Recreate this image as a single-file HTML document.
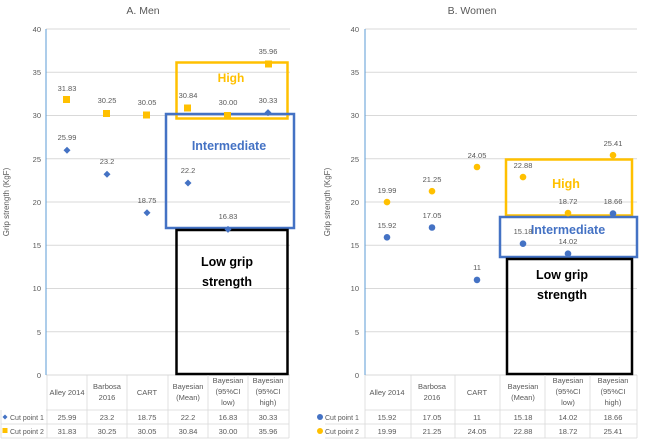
<!DOCTYPE html>
<html><head><meta charset="utf-8"><style>
html,body{margin:0;padding:0;background:#fff;}
svg{display:block;font-family:"Liberation Sans",sans-serif;}
.t{font-size:7.5px;fill:#595959;text-anchor:middle}
.ax{font-size:7.5px;fill:#595959;text-anchor:end}
.g{stroke:#d9d9d9;stroke-width:1}
.tb{stroke:#d9d9d9;stroke-width:0.8;fill:none}
</style></head><body>
<svg width="645" height="439" viewBox="0 0 645 439">
<!-- ===== LEFT ===== -->
<text x="143" y="14" font-size="10.5" fill="#595959" text-anchor="middle">A. Men</text>
<g class="g">
<line x1="46" x2="290" y1="29" y2="29"/><line x1="46" x2="290" y1="72.25" y2="72.25"/><line x1="46" x2="290" y1="115.5" y2="115.5"/><line x1="46" x2="290" y1="158.75" y2="158.75"/><line x1="46" x2="290" y1="202" y2="202"/><line x1="46" x2="290" y1="245.25" y2="245.25"/><line x1="46" x2="290" y1="288.5" y2="288.5"/><line x1="46" x2="290" y1="331.75" y2="331.75"/><line x1="46" x2="290" y1="375" y2="375"/>
</g>
<line x1="46" x2="46" y1="29" y2="375" stroke="#5b9bd5" stroke-width="1"/>
<text class="ax" x="41" y="32">40</text><text class="ax" x="41" y="75">35</text><text class="ax" x="41" y="118">30</text><text class="ax" x="41" y="162">25</text><text class="ax" x="41" y="205">20</text><text class="ax" x="41" y="248">15</text><text class="ax" x="41" y="291">10</text><text class="ax" x="41" y="335">5</text><text class="ax" x="41" y="378">0</text>
<text transform="translate(9,202) rotate(-90)" font-size="8" fill="#595959" text-anchor="middle">Grip strength (KgF)</text>
<!-- boxes -->
<rect x="176.5" y="62.5" width="111" height="56" fill="none" stroke="#ffc000" stroke-width="2.5"/>
<text x="231" y="82" font-size="12" font-weight="bold" fill="#ffc000" text-anchor="middle">High</text>
<rect x="166" y="114" width="128" height="114" fill="none" stroke="#4472c4" stroke-width="2.5"/>
<text x="229" y="150" font-size="12.5" font-weight="bold" fill="#4472c4" text-anchor="middle">Intermediate</text>
<rect x="176.5" y="230" width="111" height="144" fill="none" stroke="#000" stroke-width="2.5"/>
<text x="227" y="266" font-size="12.5" font-weight="bold" fill="#000" text-anchor="middle">Low grip</text>
<text x="227" y="286" font-size="12.5" font-weight="bold" fill="#000" text-anchor="middle">strength</text>
<!-- cp2 squares -->
<g fill="#ffc000">
<rect x="63" y="96" width="7" height="7"/><rect x="103" y="110" width="7" height="7"/><rect x="143" y="111.5" width="7" height="7"/><rect x="184" y="104.5" width="7" height="7"/><rect x="224" y="112" width="7" height="7"/><rect x="265" y="60.5" width="7" height="7"/>
</g>
<g class="t">
<text x="67" y="91">31.83</text><text x="107" y="103">30.25</text><text x="147" y="105">30.05</text><text x="188" y="98">30.84</text><text x="228" y="105">30.00</text><text x="268" y="54">35.96</text>
</g>
<!-- cp1 diamonds -->
<g fill="#4472c4">
<path d="M67 146.7l3.5 3.5-3.5 3.5-3.5-3.5z"/><path d="M107 170.8l3.5 3.5-3.5 3.5-3.5-3.5z"/><path d="M147 209.3l3.5 3.5-3.5 3.5-3.5-3.5z"/><path d="M188 179.5l3.5 3.5-3.5 3.5-3.5-3.5z"/><path d="M228 225.9l3.5 3.5-3.5 3.5-3.5-3.5z"/><path d="M268 109.1l3.5 3.5-3.5 3.5-3.5-3.5z"/>
</g>
<g class="t">
<text x="67" y="140">25.99</text><text x="107" y="164">23.2</text><text x="147" y="203">18.75</text><text x="188" y="173">22.2</text><text x="228" y="219">16.83</text><text x="268" y="103">30.33</text>
</g>
<!-- table -->
<g class="tb">
<line x1="46" x2="289" y1="410" y2="410"/><line x1="1" x2="289" y1="424" y2="424"/><line x1="1" x2="289" y1="438" y2="438"/><line x1="1" x2="1" y1="410" y2="438"/>
<line x1="47" x2="47" y1="375" y2="438"/><line x1="87" x2="87" y1="375" y2="438"/><line x1="127" x2="127" y1="375" y2="438"/><line x1="168" x2="168" y1="375" y2="438"/><line x1="208" x2="208" y1="375" y2="438"/><line x1="248" x2="248" y1="375" y2="438"/><line x1="289" x2="289" y1="375" y2="438"/>
</g>
<g class="t" font-size="7">
<text x="67" y="395">Alley 2014</text><text x="107" y="389">Barbosa</text><text x="107" y="400">2016</text><text x="147" y="395">CART</text>
<text x="188" y="389">Bayesian</text><text x="188" y="400">(Mean)</text>
<text x="228" y="383">Bayesian</text><text x="228" y="394">(95%CI</text><text x="228" y="405">low)</text>
<text x="268" y="383">Bayesian</text><text x="268" y="394">(95%CI</text><text x="268" y="405">high)</text>
<text x="67" y="420">25.99</text><text x="107" y="420">23.2</text><text x="147" y="420">18.75</text><text x="188" y="420">22.2</text><text x="228" y="420">16.83</text><text x="268" y="420">30.33</text>
<text x="67" y="434">31.83</text><text x="107" y="434">30.25</text><text x="147" y="434">30.05</text><text x="188" y="434">30.84</text><text x="228" y="434">30.00</text><text x="268" y="434">35.96</text>
</g>
<path d="M5 414.5l2.5 2.5-2.5 2.5-2.5-2.5z" fill="#4472c4"/>
<rect x="2.5" y="428" width="5" height="5" fill="#ffc000"/>
<text x="10" y="420" font-size="7" fill="#595959">Cut point 1</text>
<text x="10" y="434" font-size="7" fill="#595959">Cut point 2</text>

<!-- ===== RIGHT ===== -->
<text x="472" y="14" font-size="10.5" fill="#595959" text-anchor="middle">B. Women</text>
<g class="g">
<line x1="365" x2="637" y1="29" y2="29"/><line x1="365" x2="637" y1="72.25" y2="72.25"/><line x1="365" x2="637" y1="115.5" y2="115.5"/><line x1="365" x2="637" y1="158.75" y2="158.75"/><line x1="365" x2="637" y1="202" y2="202"/><line x1="365" x2="637" y1="245.25" y2="245.25"/><line x1="365" x2="637" y1="288.5" y2="288.5"/><line x1="365" x2="637" y1="331.75" y2="331.75"/><line x1="365" x2="637" y1="375" y2="375"/>
</g>
<line x1="365" x2="365" y1="29" y2="375" stroke="#5b9bd5" stroke-width="1"/>
<text class="ax" x="359" y="32">40</text><text class="ax" x="359" y="75">35</text><text class="ax" x="359" y="118">30</text><text class="ax" x="359" y="162">25</text><text class="ax" x="359" y="205">20</text><text class="ax" x="359" y="248">15</text><text class="ax" x="359" y="291">10</text><text class="ax" x="359" y="335">5</text><text class="ax" x="359" y="378">0</text>
<text transform="translate(330,202) rotate(-90)" font-size="8" fill="#595959" text-anchor="middle">Grip strength (KgF)</text>
<rect x="506" y="159.5" width="126" height="56" fill="none" stroke="#ffc000" stroke-width="2.5"/>
<text x="566" y="188" font-size="12.5" font-weight="bold" fill="#ffc000" text-anchor="middle">High</text>
<rect x="500" y="217" width="137" height="40" fill="none" stroke="#4472c4" stroke-width="2.5"/>
<text x="568" y="234" font-size="12.5" font-weight="bold" fill="#4472c4" text-anchor="middle">Intermediate</text>
<rect x="507" y="259" width="125" height="115" fill="none" stroke="#000" stroke-width="2.5"/>
<text x="562" y="279" font-size="12.5" font-weight="bold" fill="#000" text-anchor="middle">Low grip</text>
<text x="562" y="299" font-size="12.5" font-weight="bold" fill="#000" text-anchor="middle">strength</text>
<g fill="#ffc000">
<circle cx="387" cy="202.1" r="3.3"/><circle cx="432" cy="191.2" r="3.3"/><circle cx="477" cy="167" r="3.3"/><circle cx="523" cy="177.1" r="3.3"/><circle cx="568" cy="213.1" r="3.3"/><circle cx="613" cy="155.2" r="3.3"/>
</g>
<g class="t">
<text x="387" y="193">19.99</text><text x="432" y="182">21.25</text><text x="477" y="158">24.05</text><text x="523" y="168">22.88</text><text x="568" y="204">18.72</text><text x="613" y="146">25.41</text>
</g>
<g fill="#4472c4">
<circle cx="387" cy="237.3" r="3.3"/><circle cx="432" cy="227.5" r="3.3"/><circle cx="477" cy="279.9" r="3.3"/><circle cx="523" cy="243.7" r="3.3"/><circle cx="568" cy="253.7" r="3.3"/><circle cx="613" cy="213.6" r="3.3"/>
</g>
<g class="t">
<text x="387" y="228">15.92</text><text x="432" y="218">17.05</text><text x="477" y="270">11</text><text x="523" y="234">15.18</text><text x="568" y="244">14.02</text><text x="613" y="204">18.66</text>
</g>
<g class="tb">
<line x1="365" x2="637" y1="410" y2="410"/><line x1="325" x2="637" y1="424" y2="424"/><line x1="325" x2="637" y1="438" y2="438"/>
<line x1="365" x2="365" y1="375" y2="438"/><line x1="411" x2="411" y1="375" y2="438"/><line x1="455" x2="455" y1="375" y2="438"/><line x1="500" x2="500" y1="375" y2="438"/><line x1="545" x2="545" y1="375" y2="438"/><line x1="590" x2="590" y1="375" y2="438"/><line x1="637" x2="637" y1="375" y2="438"/>
</g>
<g class="t" font-size="7">
<text x="387" y="395">Alley 2014</text><text x="432" y="389">Barbosa</text><text x="432" y="400">2016</text><text x="477" y="395">CART</text>
<text x="523" y="389">Bayesian</text><text x="523" y="400">(Mean)</text>
<text x="568" y="383">Bayesian</text><text x="568" y="394">(95%CI</text><text x="568" y="405">low)</text>
<text x="613" y="383">Bayesian</text><text x="613" y="394">(95%CI</text><text x="613" y="405">high)</text>
<text x="387" y="420">15.92</text><text x="432" y="420">17.05</text><text x="477" y="420">11</text><text x="523" y="420">15.18</text><text x="568" y="420">14.02</text><text x="613" y="420">18.66</text>
<text x="387" y="434">19.99</text><text x="432" y="434">21.25</text><text x="477" y="434">24.05</text><text x="523" y="434">22.88</text><text x="568" y="434">18.72</text><text x="613" y="434">25.41</text>
</g>
<circle cx="320" cy="417" r="3" fill="#4472c4"/>
<circle cx="320" cy="431" r="3" fill="#ffc000"/>
<text x="325" y="420" font-size="7" fill="#595959">Cut point 1</text>
<text x="325" y="434" font-size="7" fill="#595959">Cut point 2</text>
</svg>
</body></html>
